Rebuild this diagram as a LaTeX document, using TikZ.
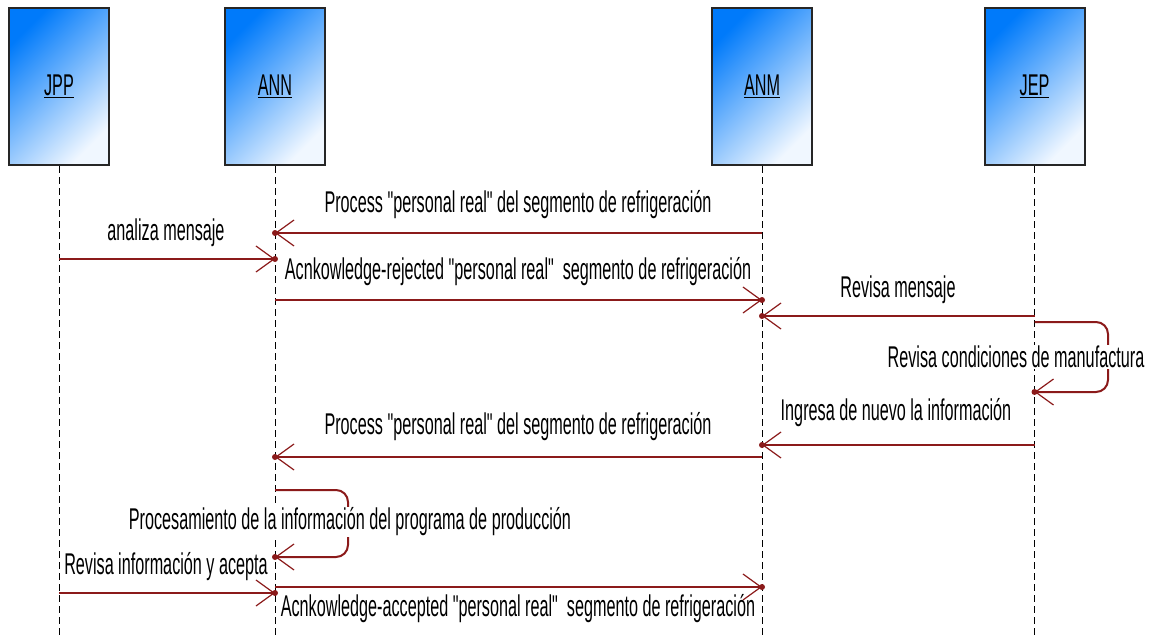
\documentclass[tikz,border=0pt]{standalone}
\usepackage{fontspec}
\setmainfont[FakeStretch=0.54, Ligatures=TeXOff]{Liberation Sans}
\usetikzlibrary{arrows.meta}

\definecolor{msgred}{RGB}{139,26,26}
\definecolor{lifeblue}{RGB}{0,122,250}
\definecolor{lifewhite}{RGB}{240,247,255}

\begin{document}
\begin{tikzpicture}[x=1pt, y=-1pt, font=\fontsize{30}{34}\selectfont]

\tikzstyle{actor}=[draw=black!85, line width=2pt, minimum width=100pt, minimum height=157pt, top color=lifeblue, bottom color=lifewhite, shading angle=45, inner sep=0pt]
\tikzstyle{life}=[draw=black, line width=0.9pt, dash pattern=on 7pt off 4pt]
\tikzstyle{msg}=[draw=msgred, line width=2pt, -{Straight Barb[length=18pt, width=26pt, line width=1.2pt]}]
\tikzstyle{selfmsg}=[msg, rounded corners=12pt]
\tikzstyle{lbl}=[inner sep=1pt]

\useasboundingbox (0,0) rectangle (1149,637);

% --- participants ---
\node[actor] (jpp) at (59,86.5)    {\underline{JPP}};
\node[actor] (ann) at (275,86.5)   {\underline{ANN}};
\node[actor] (anm) at (762,86.5)   {\underline{ANM}};
\node[actor] (jep) at (1034.5,86.5) {\underline{JEP}};

% --- lifelines ---
\foreach \p in {jpp,ann,anm,jep}
  \draw[life] (\p.south) -- (\p |- 0,637);

% --- messages ---
\draw[msg] (anm |- 0,233) -- (ann |- 0,233);
\draw[msg] (jpp |- 0,259) -- (ann |- 0,259);
\draw[msg] (ann |- 0,300) -- (anm |- 0,300);
\draw[msg] (jep |- 0,316) -- (anm |- 0,316);
\draw[selfmsg] (jep |- 0,322) -- (1108,322) -- (1108,392) -- (jep |- 0,392);
\draw[msg] (jep |- 0,445) -- (anm |- 0,445);
\draw[msg] (anm |- 0,457) -- (ann |- 0,457);
\draw[selfmsg] (ann |- 0,490) -- (348,490) -- (348,557) -- (ann |- 0,557);
\draw[msg] (ann |- 0,587) -- (anm |- 0,587);
\draw[msg] (jpp |- 0,593) -- (ann |- 0,593);

% dots on the receiving ends
\foreach \p/\y in {ann/233, ann/259, anm/300, anm/316, jep/392, anm/445, ann/457, ann/557, anm/587, ann/593}
  \fill[msgred] (\p |- 0,\y) circle (3pt);

% --- labels ---
\node[lbl] (t1)  at (518,205) {Process "personal real" del segmento de refrigeración};
\node[lbl] (t2)  at (166,233) {analiza mensaje};
\node[lbl] (t3)  at (518,272) {Acnkowledge-rejected "personal real"\ \ segmento de refrigeración};
\node[lbl] (t4)  at (898,290) {Revisa mensaje};
\node[lbl, fill=white] (t5)  at (1016,357) {Revisa condiciones de manufactura};
\node[lbl] (t6)  at (896,413) {Ingresa de nuevo la información};
\node[lbl] (t7)  at (518,427) {Process "personal real" del segmento de refrigeración};
\node[lbl, fill=white] (t8)  at (350,522) {Procesamiento de la información del programa de producción};
\node[lbl] (t9)  at (166,567) {Revisa información y acepta};
\node[lbl] (t10) at (518,609) {Acnkowledge-accepted "personal real"\ \ segmento de refrigeración};

\end{tikzpicture}
\end{document}
